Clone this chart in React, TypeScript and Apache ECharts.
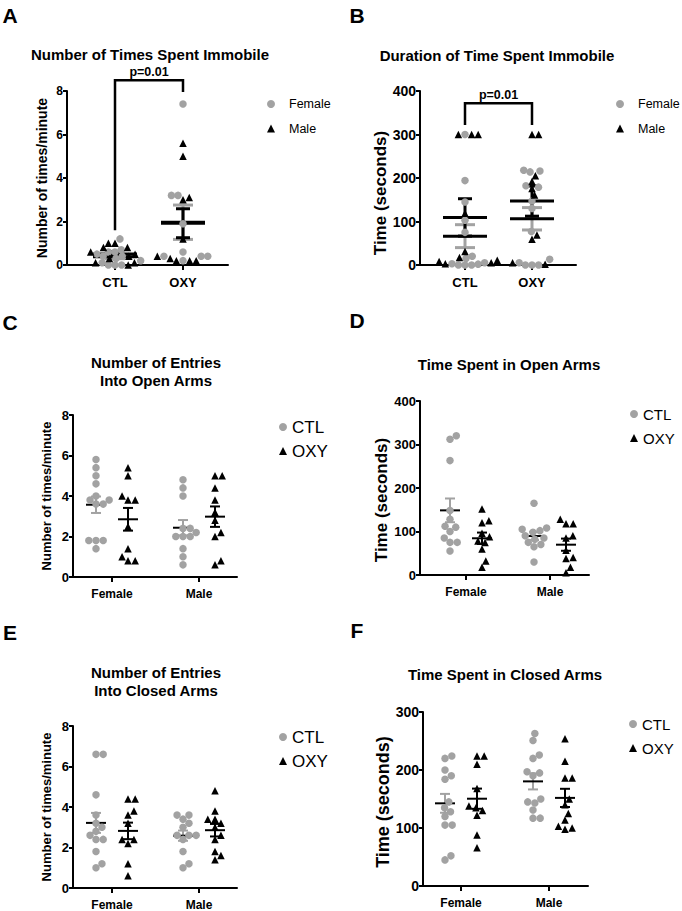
import React, { useEffect, useRef } from "react";
import * as echarts from "echarts";

const FONT = "'Liberation Sans', Arial, Helvetica, sans-serif";
const GRAY = "#a2a2a2";
const BLACK = "#000000";

// ---------------- data ----------------
const treatmentCategories = ["CTL", "OXY"];
const sexCategories = ["Female", "Male"];
const sexSeriesNames = ["Female", "Male"];
const treatmentSeriesNames = ["CTL", "OXY"];
const pValueLabels = ["p=0.01", "p=0.01"];

// A: Number of Times Spent Immobile (times/minute)
const aFemaleCTL = [1.2, 0.7, 0.6, 0.6, 0.5, 0.4, 0.4, 0.3, 0.2, 0.1, 0.0, 0.0, 0.0];
const aFemaleOXY = [7.4, 3.2, 3.2, 1.9, 0.6, 0.4, 0.4, 0.4, 0.2];
const aMaleCTL = [1.0, 1.0, 0.8, 0.8, 0.6, 0.5, 0.4, 0.3, 0.1, 0.1, 0.0];
const aMaleOXY = [5.6, 5.0, 3.1, 3.0, 1.2, 0.4, 0.3, 0.2, 0.2, 0.2];
const aBracket = [8.5, 1.6, 7.95]; // top, left leg end, right leg end

// B: Duration of Time Spent Immobile (seconds)
const bFemaleCTL = [300, 194, 145, 103, 75, 20, 15, 5, 3, 2, 0, 0, 0];
const bFemaleOXY = [218, 216, 214, 182, 179, 147, 130, 77, 13, 5, 0, 0, 0];
const bMaleCTL = [300, 300, 300, 119, 31, 17, 11, 8, 5, 3];
const bMaleOXY = [300, 300, 205, 192, 176, 161, 69, 59, 5, 2];
const bBracket = [372, 322, 322];

// C: Number of Entries Into Open Arms
const cCTLFemale = [5.8, 5.4, 5.0, 4.6, 4.0, 3.8, 3.8, 3.6, 3.6, 1.8, 1.8, 1.8, 1.4];
const cCTLMale = [4.8, 4.4, 4.0, 2.4, 2.4, 2.2, 2.0, 2.0, 2.0, 1.4, 1.0, 0.6];
const cOXYFemale = [5.4, 5.0, 4.0, 3.8, 3.8, 2.5, 1.4, 1.0, 0.8, 0.8];
const cOXYMale = [5.0, 5.0, 4.4, 3.8, 3.2, 2.8, 2.2, 2.0, 0.8, 0.6];

// D: Time Spent in Open Arms
const dCTLFemale = [320, 312, 263, 148, 128, 112, 110, 100, 85, 75, 75, 55];
const dCTLMale = [165, 108, 105, 102, 98, 90, 85, 82, 75, 70, 65, 30];
const dOXYFemale = [152, 125, 120, 96, 88, 78, 75, 60, 32, 18];
const dOXYMale = [128, 118, 118, 90, 85, 57, 40, 38, 18, 5];

// E: Number of Entries Into Closed Arms
const eCTLFemale = [6.6, 6.6, 4.6, 3.6, 3.2, 3.0, 2.8, 2.6, 2.4, 2.4, 1.8, 1.2, 1.0];
const eCTLMale = [3.6, 3.6, 3.4, 3.2, 3.0, 2.6, 2.6, 2.6, 2.4, 1.8, 1.2, 1.0];
const eOXYFemale = [4.4, 4.4, 3.8, 3.6, 3.2, 2.4, 2.4, 2.2, 1.2, 0.6];
const eOXYMale = [4.8, 3.8, 3.4, 3.4, 3.2, 3.0, 2.6, 2.4, 1.8, 1.6, 1.4];

// F: Time Spent in Closed Arms
const fCTLFemale = [224, 220, 200, 190, 184, 145, 135, 128, 120, 105, 105, 52, 45];
const fCTLMale = [263, 251, 226, 220, 197, 195, 190, 150, 145, 143, 131, 117, 117];
const fOXYFemale = [224, 224, 210, 168, 138, 135, 130, 122, 88, 66];
const fOXYMale = [254, 215, 186, 186, 150, 140, 125, 114, 103, 100, 98];

// ---------------- panels ----------------
type Panel = {
  letter: string;
  title: string;
  yName: string;
  yMax: number;
  yInterval: number;
  categories: string[];
  seriesNames: string[];
  values: number[][][]; // [series][category]
  shared: boolean;
  bracket?: number[];
  pLabel?: string;
  grid: { left: number; top: number; width: number; height: number };
  ticks: [number, number];
  titlePos: [number, number];
  letterPos: [number, number];
  legendPos: [number, number];
  legendFont: number;
  legendPad: number;
  yNameGap: number;
  yNameShift: number;
  yLabelSize: number;
  yNameSize: number;
  xLabelSize: number;
  wide: boolean;
};

const panels: Panel[] = [
  {
    letter: "A", title: "Number of Times Spent Immobile", yName: "Number of times/minute",
    yMax: 8, yInterval: 2, categories: treatmentCategories, seriesNames: sexSeriesNames,
    values: [[aFemaleCTL, aFemaleOXY], [aMaleCTL, aMaleOXY]], shared: true,
    bracket: aBracket, pLabel: pValueLabels[0],
    grid: { left: 67, top: 91, width: 161, height: 174 }, ticks: [115, 183],
    titlePos: [150, 54], letterPos: [10, 15], legendPos: [267, 97.5], legendFont: 12.5, legendPad: 9,
    yNameGap: 18, yNameShift: 0, yLabelSize: 12, yNameSize: 14, xLabelSize: 13, wide: true,
  },
  {
    letter: "B", title: "Duration of Time Spent Immobile", yName: "Time (seconds)",
    yMax: 400, yInterval: 100, categories: treatmentCategories, seriesNames: sexSeriesNames,
    values: [[bFemaleCTL, bFemaleOXY], [bMaleCTL, bMaleOXY]], shared: true,
    bracket: bBracket, pLabel: pValueLabels[1],
    grid: { left: 420, top: 91, width: 156, height: 174 }, ticks: [465, 532],
    titlePos: [497, 55], letterPos: [357, 15], legendPos: [616, 97.5], legendFont: 12.5, legendPad: 9,
    yNameGap: 24, yNameShift: 15, yLabelSize: 14, yNameSize: 17, xLabelSize: 13, wide: true,
  },
  {
    letter: "C", title: "Number of Entries\nInto Open Arms", yName: "Number of times/minute",
    yMax: 8, yInterval: 2, categories: sexCategories, seriesNames: treatmentSeriesNames,
    values: [[cCTLFemale, cCTLMale], [cOXYFemale, cOXYMale]], shared: false,
    grid: { left: 73, top: 415, width: 164, height: 162 }, ticks: [112, 199],
    titlePos: [156, 371], letterPos: [10, 322], legendPos: [279, 418.5], legendFont: 17, legendPad: 0,
    yNameGap: 20, yNameShift: 0, yLabelSize: 13, yNameSize: 13, xLabelSize: 12, wide: false,
  },
  {
    letter: "D", title: "Time Spent in Open Arms", yName: "Time (seconds)",
    yMax: 400, yInterval: 100, categories: sexCategories, seriesNames: treatmentSeriesNames,
    values: [[dCTLFemale, dCTLMale], [dOXYFemale, dOXYMale]], shared: false,
    grid: { left: 420, top: 401, width: 169, height: 174 }, ticks: [466, 550],
    titlePos: [509, 364], letterPos: [357, 320], legendPos: [630, 406.5], legendFont: 15, legendPad: 0,
    yNameGap: 24, yNameShift: 12, yLabelSize: 13, yNameSize: 17, xLabelSize: 12, wide: false,
  },
  {
    letter: "E", title: "Number of Entries\nInto Closed Arms", yName: "Number of times/minute",
    yMax: 8, yInterval: 2, categories: sexCategories, seriesNames: treatmentSeriesNames,
    values: [[eCTLFemale, eCTLMale], [eOXYFemale, eOXYMale]], shared: false,
    grid: { left: 73, top: 726, width: 164, height: 162 }, ticks: [112, 199],
    titlePos: [156, 681], letterPos: [10, 632], legendPos: [279, 728.5], legendFont: 17, legendPad: 0,
    yNameGap: 20, yNameShift: 0, yLabelSize: 13, yNameSize: 13, xLabelSize: 12, wide: false,
  },
  {
    letter: "F", title: "Time Spent in Closed Arms", yName: "Time (seconds)",
    yMax: 300, yInterval: 100, categories: sexCategories, seriesNames: treatmentSeriesNames,
    values: [[fCTLFemale, fCTLMale], [fOXYFemale, fOXYMale]], shared: false,
    grid: { left: 423, top: 712, width: 165, height: 174 }, ticks: [461, 549],
    titlePos: [505, 674], letterPos: [357, 630], legendPos: [629, 716.5], legendFont: 15, legendPad: 0,
    yNameGap: 26, yNameShift: 3, yLabelSize: 14, yNameSize: 18, xLabelSize: 12, wide: false,
  },
];

// ---------------- helpers ----------------
function meanSem(arr: number[]) {
  const n = arr.length;
  const m = arr.reduce((a, b) => a + b, 0) / n;
  const v = arr.reduce((a, b) => a + (b - m) * (b - m), 0) / (n - 1);
  return { mean: m, sem: Math.sqrt(v) / Math.sqrt(n) };
}

// beeswarm in pixel space, returns x offsets in axis units
function swarm(vals: number[], pxX: number, pxY: number, d: number): number[] {
  const order = vals.map((_, i) => i).sort((a, b) => vals[a] - vals[b]);
  const placed: { x: number; y: number }[] = [];
  const out: number[] = new Array(vals.length).fill(0);
  for (const i of order) {
    const y = vals[i] * pxY;
    const cands: number[] = [0];
    for (const p of placed) {
      const dy = Math.abs(p.y - y);
      if (dy < d) {
        const dx = Math.sqrt(d * d - dy * dy);
        cands.push(p.x + dx, p.x - dx);
      }
    }
    cands.sort((a, b) => Math.abs(a) - Math.abs(b) || b - a);
    let chosen = 0;
    for (const c of cands) {
      const ok = placed.every((p) => (p.x - c) ** 2 + (p.y - y) ** 2 >= d * d - 1e-6);
      if (ok) { chosen = c; break; }
    }
    placed.push({ x: chosen, y });
    out[i] = chosen / pxX;
  }
  return out;
}

function buildOption() {
  const option: any = {
    animation: false,
    backgroundColor: "#ffffff",
    textStyle: { fontFamily: FONT },
    grid: [], xAxis: [], yAxis: [], series: [], legend: [], graphic: [],
  };
  const axisLine = { show: true, onZero: false, lineStyle: { color: BLACK, width: 2 } };

  panels.forEach((p, i) => {
    const unit = p.ticks[1] - p.ticks[0];
    const xMin = -(p.ticks[0] - p.grid.left) / unit;
    const xMax = xMin + p.grid.width / unit;
    const pxY = p.grid.height / p.yMax;
    const D = p.shared ? 6.6 : 7.2;

    option.grid.push({ ...p.grid, containLabel: false, outerBoundsMode: "none" });
    option.xAxis.push({
      gridIndex: i, type: "value", min: xMin, max: xMax,
      axisLine,
      axisTick: { show: true, customValues: [0, 1], length: 5, lineStyle: { color: BLACK, width: 2 } },
      axisLabel: {
        customValues: [0, 1], margin: 11, color: BLACK, fontWeight: "bold", fontSize: p.xLabelSize, fontFamily: FONT,
        formatter: (v: number) => p.categories[Math.round(v)] ?? "",
      },
      splitLine: { show: false },
    });
    option.yAxis.push({
      gridIndex: i, type: "value", min: 0, max: p.yMax, interval: p.yInterval,
      axisLine,
      axisTick: { show: true, length: 4, lineStyle: { color: BLACK, width: 2 } },
      axisLabel: { margin: 4, color: BLACK, fontWeight: "bold", fontSize: p.yLabelSize, fontFamily: FONT },
      splitLine: { show: false },
      name: p.yName, nameLocation: "middle", nameGap: p.yNameGap,
      nameTextStyle: {
        color: BLACK, fontWeight: "bold", fontSize: p.yNameSize, fontFamily: FONT,
        padding: [0, p.yNameShift * 2, 0, 0],
      },
    });

    const pts: number[][][] = [[], []];
    const stats: number[][] = [];
    if (p.shared) {
      p.categories.forEach((_, c) => {
        const col: { v: number; s: number }[] = [];
        p.values.forEach((arr, s) => arr[c].forEach((v) => col.push({ v, s })));
        const offs = swarm(col.map((o) => o.v), unit, pxY, D);
        col.forEach((o, k) => pts[o.s].push([c + offs[k], o.v]));
        p.values.forEach((arr, s) => {
          const ms = meanSem(arr[c]);
          stats.push([c, ms.mean, ms.sem, s]);
        });
      });
    } else {
      const off = 16 / unit;
      p.categories.forEach((_, c) => {
        p.values.forEach((arr, s) => {
          const center = c + (s === 0 ? -off : off);
          const offs = swarm(arr[c], unit, pxY, D);
          arr[c].forEach((v, k) => pts[s].push([center + offs[k], v]));
          const ms = meanSem(arr[c]);
          stats.push([center, ms.mean, ms.sem, s]);
        });
      });
    }

    option.series.push({
      type: "scatter", name: p.seriesNames[0], xAxisIndex: i, yAxisIndex: i,
      symbol: "circle", symbolSize: 7.5, itemStyle: { color: GRAY, opacity: 1 },
      data: pts[0], silent: true,
    });
    option.series.push({
      type: "scatter", name: p.seriesNames[1], xAxisIndex: i, yAxisIndex: i,
      symbol: "triangle", symbolSize: 7.5, itemStyle: { color: BLACK, opacity: 1 },
      data: pts[1], silent: true,
    });

    const meanHalf = p.wide ? 22 : 10;
    const capHalfGray = p.wide ? 10 : 5;
    const capHalfBlack = p.wide ? 7 : 5;
    const lw = p.wide ? 3 : 2;
    const semItems = stats
      .slice()
      .sort((a, b) => a[3] - b[3])
      .map((s) => [s[0], s[1], s[2], s[3], 0]);
    const meanItems = stats.map((s) => [s[0], s[1], s[2], s[3], 1]);
    option.series.push({
      type: "custom", xAxisIndex: i, yAxisIndex: i, clip: false, silent: true,
      encode: { x: 0, y: 1 },
      data: [...semItems, ...meanItems],
      renderItem: (params: any, api: any) => {
        const x = api.value(0), m = api.value(1), se = api.value(2), ci = api.value(3), kind = api.value(4);
        const c = api.coord([x, m]);
        if (kind === 1) {
          return {
            type: "line",
            shape: { x1: c[0] - meanHalf, y1: c[1], x2: c[0] + meanHalf, y2: c[1] },
            style: { stroke: BLACK, lineWidth: lw },
          };
        }
        const t = api.coord([x, m + se]);
        const b = api.coord([x, Math.max(0, m - se)]);
        const color = ci === 0 ? GRAY : BLACK;
        const ch = ci === 0 ? capHalfGray : capHalfBlack;
        const st = { stroke: color, lineWidth: lw };
        return {
          type: "group",
          children: [
            { type: "line", shape: { x1: c[0], y1: t[1], x2: c[0], y2: b[1] }, style: st },
            { type: "line", shape: { x1: c[0] - ch, y1: t[1], x2: c[0] + ch, y2: t[1] }, style: st },
            { type: "line", shape: { x1: c[0] - ch, y1: b[1], x2: c[0] + ch, y2: b[1] }, style: st },
          ],
        };
      },
    });

    if (p.bracket) {
      const label = p.pLabel || "";
      option.series.push({
        type: "custom", xAxisIndex: i, yAxisIndex: i, clip: false, silent: true,
        encode: { x: [0, 1], y: [2, 3, 4] },
        data: [[0, 1, p.bracket[0], p.bracket[1], p.bracket[2]]],
        renderItem: (params: any, api: any) => {
          const pL = api.coord([api.value(0), api.value(3)]);
          const pTL = api.coord([api.value(0), api.value(2)]);
          const pTR = api.coord([api.value(1), api.value(2)]);
          const pR = api.coord([api.value(1), api.value(4)]);
          return {
            type: "group",
            children: [
              {
                type: "polyline",
                shape: { points: [pL, pTL, pTR, pR] },
                style: { stroke: BLACK, lineWidth: 2.5, fill: "none" },
              },
              {
                type: "text",
                x: (pTL[0] + pTR[0]) / 2,
                y: pTL[1] - 1.5,
                style: {
                  text: label, fill: BLACK, fontSize: 12.5, fontWeight: "bold", fontFamily: FONT,
                  align: "center", verticalAlign: "bottom",
                },
              },
            ],
          };
        },
      });
    }

    option.legend.push({
      orient: "vertical", left: p.legendPos[0], top: p.legendPos[1], padding: 0,
      itemGap: 24 - p.legendFont, itemWidth: 8, itemHeight: 8, selectedMode: false,
      data: p.seriesNames,
      textStyle: { fontSize: p.legendFont, color: BLACK, fontFamily: FONT, padding: [0, 0, 0, p.legendPad] },
    });

    option.graphic.push({
      type: "text", x: p.letterPos[0], y: p.letterPos[1], silent: true,
      style: {
        text: p.letter, fill: BLACK, fontSize: 21, fontWeight: "bold", fontFamily: FONT,
        align: "center", verticalAlign: "middle",
      },
    });
    option.graphic.push({
      type: "text", x: p.titlePos[0], y: p.titlePos[1], silent: true,
      style: {
        text: p.title, fill: BLACK, fontSize: 15, fontWeight: "bold", fontFamily: FONT,
        align: "center", verticalAlign: "middle", lineHeight: 18,
      },
    });
  });
  return option;
}

export default function App() {
  const ref = useRef<HTMLDivElement>(null);
  useEffect(() => {
    if (!ref.current) return;
    const chart = echarts.init(ref.current, undefined, { renderer: "svg" });
    chart.setOption(buildOption());
    return () => chart.dispose();
  }, []);
  return (
    <div
      ref={ref}
      style={{ position: "absolute", left: 0, top: 0, width: 682, height: 911, background: "#fff" }}
    />
  );
}
